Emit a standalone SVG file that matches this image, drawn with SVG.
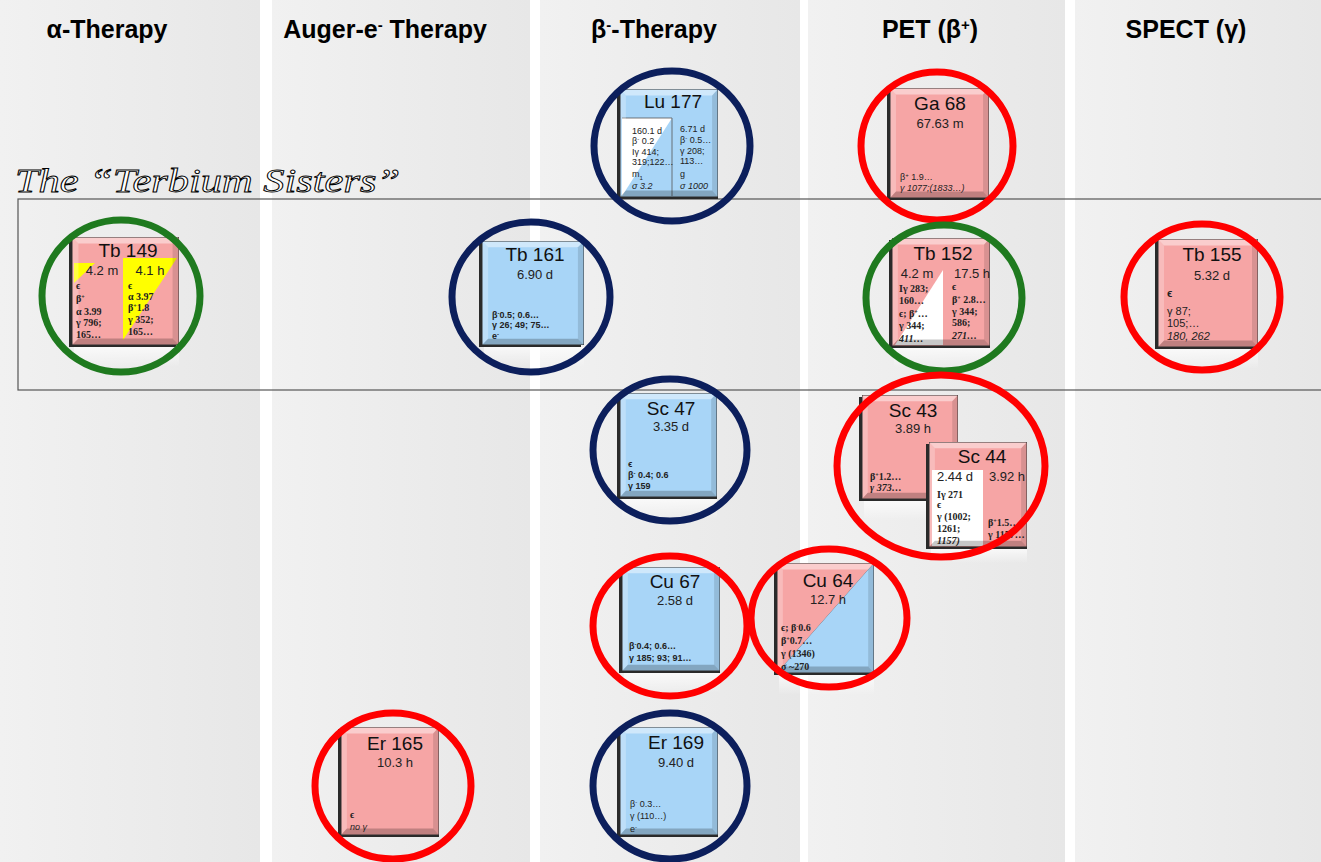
<svg xmlns="http://www.w3.org/2000/svg" xmlns:xlink="http://www.w3.org/1999/xlink" width="1321" height="862" viewBox="0 0 1321 862">
<defs>
<linearGradient id="col" x1="0" y1="0" x2="1" y2="0">
<stop offset="0" stop-color="#f1f1f1"/><stop offset="1" stop-color="#e7e7e7"/>
</linearGradient>
<linearGradient id="refl" x1="0" y1="0" x2="0" y2="1">
<stop offset="0" stop-color="#ffffff" stop-opacity="0.7"/><stop offset="1" stop-color="#ffffff" stop-opacity="0"/>
</linearGradient>
<symbol id="bevel" viewBox="0 0 100 100" preserveAspectRatio="none">
<polygon points="0,0 100,0 94,6 6,6" fill="#fff" fill-opacity="0.45"/>
<polygon points="0,0 6,6 6,94 0,100" fill="#fff" fill-opacity="0.25"/>
<polygon points="100,0 100,100 94,94 94,6" fill="#000" fill-opacity="0.12"/>
<polygon points="0,100 100,100 94,94 6,94" fill="#000" fill-opacity="0.22"/>
<rect x="0" y="0" width="100" height="100" fill="none" stroke="#333" stroke-width="1" vector-effect="non-scaling-stroke"/>
</symbol>
<clipPath id="sc44clip"><rect x="929" y="442" width="98" height="105"/></clipPath>
<clipPath id="cu64clip"><rect x="777" y="563" width="97" height="110"/></clipPath>
</defs>
<style>
.hdr{font-family:"Liberation Sans",Arial,sans-serif;font-weight:bold;font-size:25px;text-anchor:middle;fill:#000}
.ttl{font-family:"Liberation Sans",Arial,sans-serif;font-size:19px;text-anchor:middle;fill:#111}
.hl{font-family:"Liberation Sans",Arial,sans-serif;font-size:13px;text-anchor:middle;fill:#222}
.sm{font-family:"Liberation Sans","DejaVu Sans",sans-serif;font-weight:bold;font-size:9px;fill:#222}
.smr{font-family:"Liberation Sans","DejaVu Sans",sans-serif;font-size:9px;fill:#222}
.ser{font-family:"Liberation Serif","DejaVu Serif",serif;font-weight:bold;font-size:10px;fill:#222}
.big{font-family:"Liberation Sans","DejaVu Sans",sans-serif;font-size:11px;fill:#222}
.it{font-style:italic}
.pink{fill:#f6a5a5}
.blue{fill:#a8d5f7}
.shadow{fill:#2a2a2a}
.ring{fill:none;stroke-width:7}
.red{stroke:#ff0000}
.green{stroke:#1f7a1f}
.navy{stroke:#0c1f5c}
</style>
<rect width="1321" height="862" fill="#ffffff"/>
<g id="columns">
<rect x="0" y="0" width="260" height="862" fill="url(#col)"/>
<rect x="272" y="0" width="258" height="862" fill="url(#col)"/>
<rect x="540" y="0" width="260" height="862" fill="url(#col)"/>
<rect x="808" y="0" width="257" height="862" fill="url(#col)"/>
<rect x="1075" y="0" width="246" height="862" fill="url(#col)"/>
</g>
<g id="headers">
<text class="hdr" x="107" y="38">α-Therapy</text>
<text class="hdr" x="385" y="38">Auger-e<tspan baseline-shift="super" font-size="15px">-</tspan> Therapy</text>
<text class="hdr" x="654" y="38">β<tspan baseline-shift="super" font-size="15px">-</tspan>-Therapy</text>
<text class="hdr" x="930" y="38">PET (β<tspan baseline-shift="super" font-size="15px">+</tspan>)</text>
<text class="hdr" x="1186" y="38">SPECT (γ)</text>
</g>
<g id="terbium-sisters">
<rect x="18" y="199" width="1320" height="191" fill="none" stroke="#555" stroke-width="1.2"/>
<text x="15" y="192" font-family="Liberation Serif, serif" font-style="italic" font-size="34" fill="#fff" stroke="#000" stroke-width="0.9" textLength="385" lengthAdjust="spacingAndGlyphs">The “Terbium Sisters”</text>
</g>

<g id="tb149">
<rect x="74" y="347" width="105" height="20" fill="url(#refl)"/>
<rect class="shadow" x="69" y="239" width="107" height="108"/>
<rect class="pink" x="72" y="237" width="107" height="108"/>
<polygon points="74,263 95,263 74,283" fill="#ffff00"/>
<polygon points="123,258 177,258 123,340" fill="#ffff00"/>
<use xlink:href="#bevel" x="72" y="237" width="107" height="108"/>
<text class="ttl" x="128" y="257">Tb 149</text>
<text class="hl" x="102" y="275">4.2 m</text>
<text class="hl" x="150" y="275">4.1 h</text>
<text class="ser" x="76" y="289">ϵ</text>
<text class="ser" x="76" y="302">β<tspan baseline-shift="super" font-size="6px">+</tspan></text>
<text class="ser" x="76" y="315">α 3.99</text>
<text class="ser" x="76" y="326">γ 796;</text>
<text class="ser" x="76" y="338">165…</text>
<text class="ser" x="128" y="289">ϵ</text>
<text class="ser" x="128" y="300">α 3.97</text>
<text class="ser" x="128" y="311">β<tspan baseline-shift="super" font-size="6px">+</tspan>1.8</text>
<text class="ser" x="128" y="323">γ 352;</text>
<text class="ser" x="128" y="335">165…</text>
<ellipse class="ring green" cx="121" cy="296" rx="79" ry="76"/>
</g>

<g id="tb161">
<rect x="484" y="347" width="100" height="20" fill="url(#refl)"/>
<rect class="shadow" x="479" y="243" width="102" height="104"/>
<rect class="blue" x="482" y="241" width="102" height="104"/>
<use xlink:href="#bevel" x="482" y="241" width="102" height="104"/>
<text class="ttl" x="535" y="261">Tb 161</text>
<text class="hl" x="535" y="279">6.90 d</text>
<text class="sm" x="492" y="318">β<tspan baseline-shift="super" font-size="6px">-</tspan>0.5; 0.6…</text>
<text class="sm" x="492" y="328">γ  26; 49; 75…</text>
<text class="sm" x="492" y="339">e<tspan baseline-shift="super" font-size="6px">-</tspan></text>
<ellipse class="ring navy" cx="531" cy="297" rx="79" ry="75"/>
</g>

<g id="lu177">
<rect class="shadow" x="617" y="91" width="101" height="108"/>
<rect class="blue" x="620" y="89" width="98" height="108"/>
<polygon points="622,118 672,118 622,196" fill="#ffffff"/>
<line x1="672" y1="118" x2="672" y2="196" stroke="#555" stroke-width="0.8"/>
<line x1="622" y1="118" x2="672" y2="118" stroke="#555" stroke-width="0.8"/>
<use xlink:href="#bevel" x="620" y="89" width="98" height="108"/>
<text class="ttl" x="673" y="108">Lu 177</text>
<text class="smr" x="632" y="134">160.1 d</text>
<text class="smr" x="632" y="144">β<tspan baseline-shift="super" font-size="6px">-</tspan> 0.2</text>
<text class="smr" x="632" y="155">Iγ 414;</text>
<text class="smr" x="632" y="165">319;122…</text>
<text class="smr" x="632" y="177">m<tspan baseline-shift="sub" font-size="6px">1</tspan></text>
<text class="smr it" x="632" y="189">σ 3.2</text>
<text class="smr" x="680" y="132">6.71 d</text>
<text class="smr" x="680" y="143">β<tspan baseline-shift="super" font-size="6px">-</tspan> 0.5…</text>
<text class="smr" x="680" y="154">γ 208;</text>
<text class="smr" x="680" y="164">113…</text>
<text class="smr" x="680" y="177">g</text>
<text class="smr it" x="680" y="189">σ 1000</text>
<ellipse class="ring navy" cx="672" cy="146" rx="78" ry="75"/>
</g>

<g id="ga68">
<rect class="shadow" x="887" y="90" width="102" height="110"/>
<rect class="pink" x="890" y="88" width="99" height="110"/>
<use xlink:href="#bevel" x="890" y="88" width="99" height="110"/>
<text class="ttl" x="940" y="110">Ga 68</text>
<text class="hl" x="940" y="128">67.63 m</text>
<text class="smr" x="900" y="180">β<tspan baseline-shift="super" font-size="6px">+</tspan> 1.9…</text>
<text class="smr it" x="900" y="191">γ 1077;(1833…)</text>
<ellipse class="ring red" cx="937" cy="146" rx="76" ry="74"/>
</g>

<g id="tb152">
<rect x="894" y="348" width="96" height="20" fill="url(#refl)"/>
<rect class="shadow" x="889" y="240" width="101" height="108"/>
<rect class="pink" x="892" y="238" width="98" height="108"/>
<polygon points="943,270 943,345 895,345" fill="#ffffff"/>
<use xlink:href="#bevel" x="892" y="238" width="98" height="108"/>
<text class="ttl" x="943" y="260">Tb 152</text>
<text class="hl" x="917" y="278">4.2 m</text>
<text class="hl" x="972" y="278">17.5 h</text>
<text class="ser" x="899" y="292">Iγ 283;</text>
<text class="ser" x="899" y="304">160…</text>
<text class="ser" x="899" y="317">ϵ; β<tspan baseline-shift="super" font-size="6px">+</tspan>…</text>
<text class="ser" x="899" y="329">γ 344;</text>
<text class="ser it" x="899" y="342">411…</text>
<text class="ser" x="952" y="290">ϵ</text>
<text class="ser" x="952" y="303">β<tspan baseline-shift="super" font-size="6px">+</tspan> 2.8…</text>
<text class="ser" x="952" y="315">γ 344;</text>
<text class="ser" x="952" y="326">586;</text>
<text class="ser it" x="952" y="339">271…</text>
<ellipse class="ring green" cx="944" cy="298" rx="78" ry="73"/>
</g>

<g id="tb155">
<rect x="1160" y="349" width="98" height="20" fill="url(#refl)"/>
<rect class="shadow" x="1155" y="241" width="103" height="108"/>
<rect class="pink" x="1158" y="239" width="100" height="108"/>
<use xlink:href="#bevel" x="1158" y="239" width="100" height="108"/>
<text class="ttl" x="1212" y="261">Tb 155</text>
<text class="hl" x="1212" y="280">5.32 d</text>
<text class="big" x="1167" y="297" font-weight="bold">ϵ</text>
<text class="big" x="1167" y="315">γ 87;</text>
<text class="big" x="1167" y="327">105;…</text>
<text class="big it" x="1167" y="340">180, 262</text>
<ellipse class="ring red" cx="1202" cy="297" rx="78" ry="73"/>
</g>

<g id="sc47">
<rect x="622" y="499" width="95" height="20" fill="url(#refl)"/>
<rect class="shadow" x="617" y="395" width="100" height="104"/>
<rect class="blue" x="620" y="393" width="97" height="104"/>
<use xlink:href="#bevel" x="620" y="393" width="97" height="104"/>
<text class="ttl" x="671" y="415">Sc 47</text>
<text class="hl" x="671" y="431">3.35 d</text>
<text class="sm" x="628" y="467">ϵ</text>
<text class="sm" x="628" y="478">β<tspan baseline-shift="super" font-size="6px">-</tspan> 0.4; 0.6</text>
<text class="sm" x="628" y="489">γ 159</text>
<ellipse class="ring navy" cx="670" cy="450" rx="77" ry="71"/>
</g>

<g id="sc43-sc44">
<rect x="864" y="501" width="64" height="20" fill="url(#refl)"/>
<rect class="shadow" x="859" y="397" width="99" height="104"/>
<rect class="pink" x="862" y="395" width="96" height="104"/>
<use xlink:href="#bevel" x="862" y="395" width="96" height="104"/>
<text class="ttl" x="913" y="417">Sc 43</text>
<text class="hl" x="913" y="433">3.89 h</text>
<text class="ser" x="870" y="480">β<tspan baseline-shift="super" font-size="6px">+</tspan>1.2…</text>
<text class="ser it" x="870" y="491">γ 373…</text>
<rect x="931" y="549" width="96" height="14" fill="url(#refl)"/>
<rect class="shadow" x="926" y="444" width="101" height="105"/>
<rect class="pink" x="929" y="442" width="98" height="105"/>
<rect x="932" y="470" width="51" height="76" fill="#ffffff"/>
<use xlink:href="#bevel" x="929" y="442" width="98" height="105"/>
<text class="ttl" x="982" y="463">Sc 44</text>
<text class="hl" x="955" y="481">2.44 d</text>
<text class="hl" x="1007" y="481">3.92 h</text>
<text class="ser" x="937" y="498">Iγ 271</text>
<text class="ser" x="937" y="508">ϵ</text>
<text class="ser" x="937" y="520">γ (1002;</text>
<text class="ser" x="937" y="532">1261;</text>
<text class="ser it" x="937" y="544">1157)</text>
<g clip-path="url(#sc44clip)">
<text class="ser" x="988" y="526">β<tspan baseline-shift="super" font-size="6px">+</tspan>1.5…</text>
<text class="ser" x="988" y="538">γ 1157…</text>
</g>
<ellipse class="ring red" cx="941" cy="466" rx="104" ry="91"/>
</g>

<g id="cu67">
<rect x="624" y="673" width="96" height="20" fill="url(#refl)"/>
<rect class="shadow" x="619" y="569" width="101" height="104"/>
<rect class="blue" x="622" y="567" width="98" height="104"/>
<use xlink:href="#bevel" x="622" y="567" width="98" height="104"/>
<text class="ttl" x="675" y="588">Cu 67</text>
<text class="hl" x="675" y="605">2.58 d</text>
<text class="sm" x="629" y="649">β<tspan baseline-shift="super" font-size="6px">-</tspan>0.4; 0.6…</text>
<text class="sm" x="629" y="661">γ 185; 93; 91…</text>
<ellipse class="ring red" cx="670" cy="626" rx="77" ry="70"/>
</g>

<g id="cu64">
<rect x="779" y="675" width="95" height="20" fill="url(#refl)"/>
<rect class="shadow" x="774" y="565" width="100" height="110"/>
<polygon class="pink" points="777,563 874,563 777,673"/>
<polygon class="blue" points="874,563 874,673 777,673"/>
<use xlink:href="#bevel" x="777" y="563" width="97" height="110"/>
<text class="ttl" x="828" y="587">Cu 64</text>
<text class="hl" x="828" y="604">12.7 h</text>
<g clip-path="url(#cu64clip)">
<text class="ser" x="781" y="631">ϵ; β<tspan baseline-shift="super" font-size="6px">-</tspan>0.6</text>
<text class="ser" x="781" y="644">β<tspan baseline-shift="super" font-size="6px">+</tspan>0.7…</text>
<text class="ser" x="781" y="657">γ (1346)</text>
<text class="ser" x="781" y="670">σ ~270</text>
</g>
<ellipse class="ring red" cx="829" cy="618" rx="78" ry="69"/>
</g>

<g id="er165">
<rect class="shadow" x="338" y="729" width="101" height="108"/>
<rect class="pink" x="341" y="727" width="98" height="108"/>
<use xlink:href="#bevel" x="341" y="727" width="98" height="108"/>
<text class="ttl" x="395" y="750">Er 165</text>
<text class="hl" x="395" y="767">10.3 h</text>
<text class="ser" x="350" y="818">ϵ</text>
<text class="smr it" x="350" y="830">no γ</text>
<ellipse class="ring red" cx="393" cy="786" rx="78" ry="73"/>
</g>

<g id="er169">
<rect class="shadow" x="617" y="729" width="101" height="108"/>
<rect class="blue" x="620" y="727" width="98" height="108"/>
<use xlink:href="#bevel" x="620" y="727" width="98" height="108"/>
<text class="ttl" x="676" y="749">Er 169</text>
<text class="hl" x="676" y="767">9.40 d</text>
<text class="smr" x="630" y="807">β<tspan baseline-shift="super" font-size="6px">-</tspan> 0.3…</text>
<text class="smr" x="630" y="819">γ  (110…)</text>
<text class="smr" x="630" y="832">e<tspan baseline-shift="super" font-size="6px">-</tspan></text>
<ellipse class="ring navy" cx="670" cy="786" rx="77" ry="73"/>
</g>
</svg>
